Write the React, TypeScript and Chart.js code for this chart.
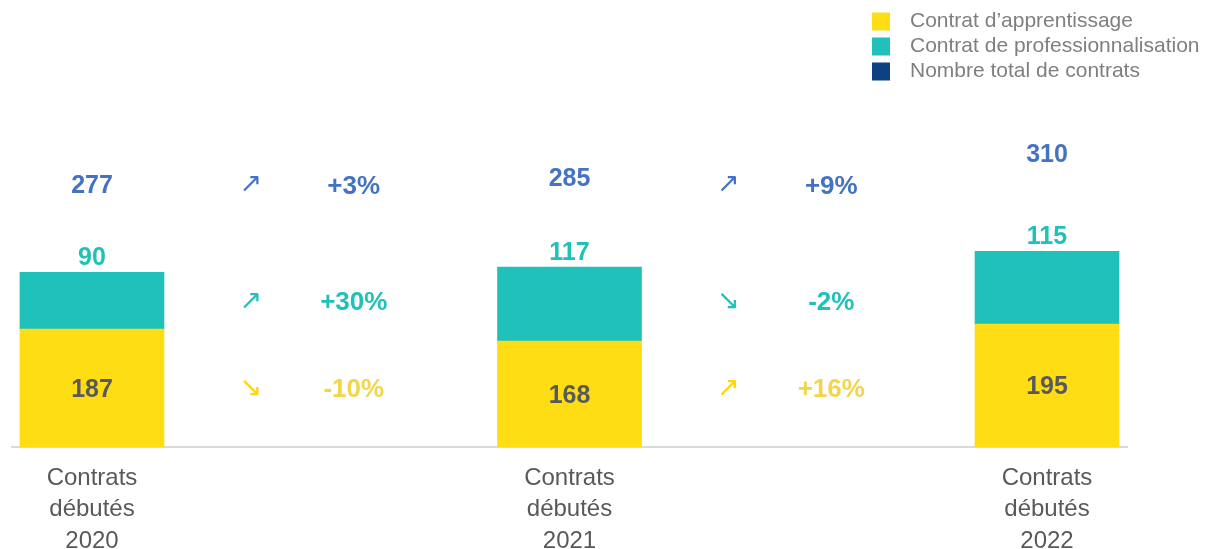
import React, { useEffect, useRef } from "react";
import { Chart, registerables } from "chart.js";

Chart.register(...registerables);

// ---- data ----
const categories: string[][] = [
  ["Contrats", "débutés", "2020"],
  ["Contrats", "débutés", "2021"],
  ["Contrats", "débutés", "2022"],
];
const seriesLabels = [
  "Contrat d’apprentissage",
  "Contrat de professionnalisation",
  "Nombre total de contrats",
];
const apprentissage = [187, 168, 195];
const professionnalisation = [90, 117, 115];
const totalContrats = [277, 285, 310];
const evolTotal = ["+3%", "+9%"];
const evolProfessionnalisation = ["+30%", "-2%"];
const evolApprentissage = ["-10%", "+16%"];

// ---- styles ----
const FONT = '"Liberation Sans", Arial, Helvetica, sans-serif';
const YELLOW = "#FFDD15";
const YELLOW_TEXT = "#F3D54A";
const YELLOW_ARROW = "#FFD60A";
const TEAL = "#21C1BB";
const NAVY = "#0E4182";
const BLUE_TEXT = "#4472C4";
const DARK_TEXT = "#595959";
const LEGEND_TEXT = "#7F7F7F";
const AXIS = "#D9D9D9";
const MID_SHIFT = 2;

const arrowFor = (s: string) => (s.trim().startsWith("-") ? "↘" : "↗");

const valueLabelsPlugin = {
  id: "valueLabels",
  afterDatasetsDraw(chart: any) {
    const ctx = chart.ctx;
    const metaA = chart.getDatasetMeta(0);
    const metaP = chart.getDatasetMeta(1);
    const metaT = chart.getDatasetMeta(2);
    const xScale = chart.scales.x;
    ctx.save();
    ctx.font = `bold 25px ${FONT}`;
    ctx.textAlign = "center";

    metaA.data.forEach((bar: any, i: number) => {
      const { x, y, base } = bar.getProps(["x", "y", "base"], true);
      ctx.fillStyle = DARK_TEXT;
      ctx.textBaseline = "middle";
      ctx.fillText(String(apprentissage[i]), x, (y + base) / 2 + MID_SHIFT);
    });
    metaP.data.forEach((bar: any, i: number) => {
      const { x, y } = bar.getProps(["x", "y"], true);
      ctx.fillStyle = TEAL;
      ctx.textBaseline = "alphabetic";
      ctx.fillText(String(professionnalisation[i]), x, y - 7);
    });
    metaT.data.forEach((pt: any, i: number) => {
      const { x, y } = pt.getProps(["x", "y"], true);
      ctx.fillStyle = BLUE_TEXT;
      ctx.textBaseline = "middle";
      ctx.fillText(String(totalContrats[i]), x, y + MID_SHIFT);
    });

    // evolution rows, aligned with the first category's labels
    const a0 = metaA.data[0].getProps(["y", "base"], true);
    const p0 = metaP.data[0].getProps(["y", "base"], true);
    const t0 = metaT.data[0].getProps(["y"], true);
    const rows = [
      { y: t0.y, values: evolTotal, text: BLUE_TEXT, arrow: BLUE_TEXT },
      { y: (p0.y + p0.base) / 2, values: evolProfessionnalisation, text: TEAL, arrow: TEAL },
      { y: (a0.y + a0.base) / 2, values: evolApprentissage, text: YELLOW_TEXT, arrow: YELLOW_ARROW },
    ];
    for (let g = 0; g < categories.length - 1; g++) {
      const mid = (xScale.getPixelForValue(g) + xScale.getPixelForValue(g + 1)) / 2;
      rows.forEach((r) => {
        const v = r.values[g];
        ctx.textBaseline = "middle";
        ctx.font = `27px "DejaVu Sans", ${FONT}`;
        ctx.fillStyle = r.arrow;
        ctx.fillText(arrowFor(v), mid - 80, r.y + 1);
        ctx.font = `bold 26px ${FONT}`;
        ctx.fillStyle = r.text;
        ctx.fillText(v, mid + 23, r.y + MID_SHIFT);
      });
    }
    ctx.restore();
  },
};

const legendPlugin = {
  id: "customLegend",
  afterDraw(chart: any) {
    const ctx = chart.ctx;
    const left = chart.width - 327;
    const top = 13.5;
    const step = 25;
    const box = 18;
    ctx.save();
    ctx.font = `21px ${FONT}`;
    ctx.textAlign = "left";
    ctx.textBaseline = "middle";
    chart.data.datasets.forEach((ds: any, i: number) => {
      const cy = top + i * step;
      ctx.fillStyle = ds.legendColor;
      ctx.fillRect(left, cy - box / 2, box, box);
      ctx.fillStyle = LEGEND_TEXT;
      ctx.fillText(ds.label, left + 38, cy);
    });
    ctx.restore();
  },
};

export default function App() {
  const canvasRef = useRef<HTMLCanvasElement | null>(null);

  useEffect(() => {
    if (!canvasRef.current) return;
    const chart = new Chart(canvasRef.current, {
      type: "bar",
      data: {
        datasets: [
          {
            type: "bar",
            label: seriesLabels[0],
            data: apprentissage.map((v, i) => ({ x: i, y: v })),
            backgroundColor: YELLOW,
            legendColor: YELLOW,
            barThickness: 144,
            yAxisID: "y",
          } as any,
          {
            type: "bar",
            label: seriesLabels[1],
            data: professionnalisation.map((v, i) => ({ x: i, y: v })),
            backgroundColor: TEAL,
            legendColor: TEAL,
            barThickness: 144,
            yAxisID: "y",
          } as any,
          {
            type: "line",
            label: seriesLabels[2],
            data: totalContrats.map((v, i) => ({ x: i, y: v })),
            backgroundColor: NAVY,
            borderColor: NAVY,
            legendColor: NAVY,
            showLine: false,
            pointRadius: 0,
            pointHoverRadius: 0,
            yAxisID: "y2",
          } as any,
        ],
      },
      options: {
        animation: false,
        responsive: true,
        maintainAspectRatio: false,
        layout: { padding: { top: 92, left: 4, right: 72, bottom: 0 } },
        plugins: {
          legend: { display: false },
          tooltip: { enabled: false },
          title: { display: false },
        },
        scales: {
          x: {
            type: "linear",
            stacked: true,
            offset: false,
            min: -0.1675,
            max: 2.1675,
            afterBuildTicks: (scale: any) => {
              scale.ticks = categories.map((_, i) => ({ value: i }));
            },
            afterFit: (scale: any) => {
              scale.height = 102;
            },
            grid: { display: false, drawTicks: false, offset: false },
            border: { display: true, color: AXIS, width: 2 },
            ticks: {
              autoSkip: false,
              maxRotation: 0,
              padding: 16,
              color: DARK_TEXT,
              font: { family: FONT, size: 24, lineHeight: 1.3 },
              callback: (v: any) => categories[Number(v)] ?? "",
            },
          },
          y: {
            display: false,
            stacked: true,
            min: 0,
            max: 550,
          },
          y2: {
            display: false,
            min: 0,
            max: 366,
          },
        },
      } as any,
      plugins: [valueLabelsPlugin, legendPlugin],
    });
    return () => chart.destroy();
  }, []);

  return (
    <div style={{ position: "fixed", top: "8px", left: "8px", width: "1191px", height: "541px" }}>
      <canvas ref={canvasRef} />
    </div>
  );
}
